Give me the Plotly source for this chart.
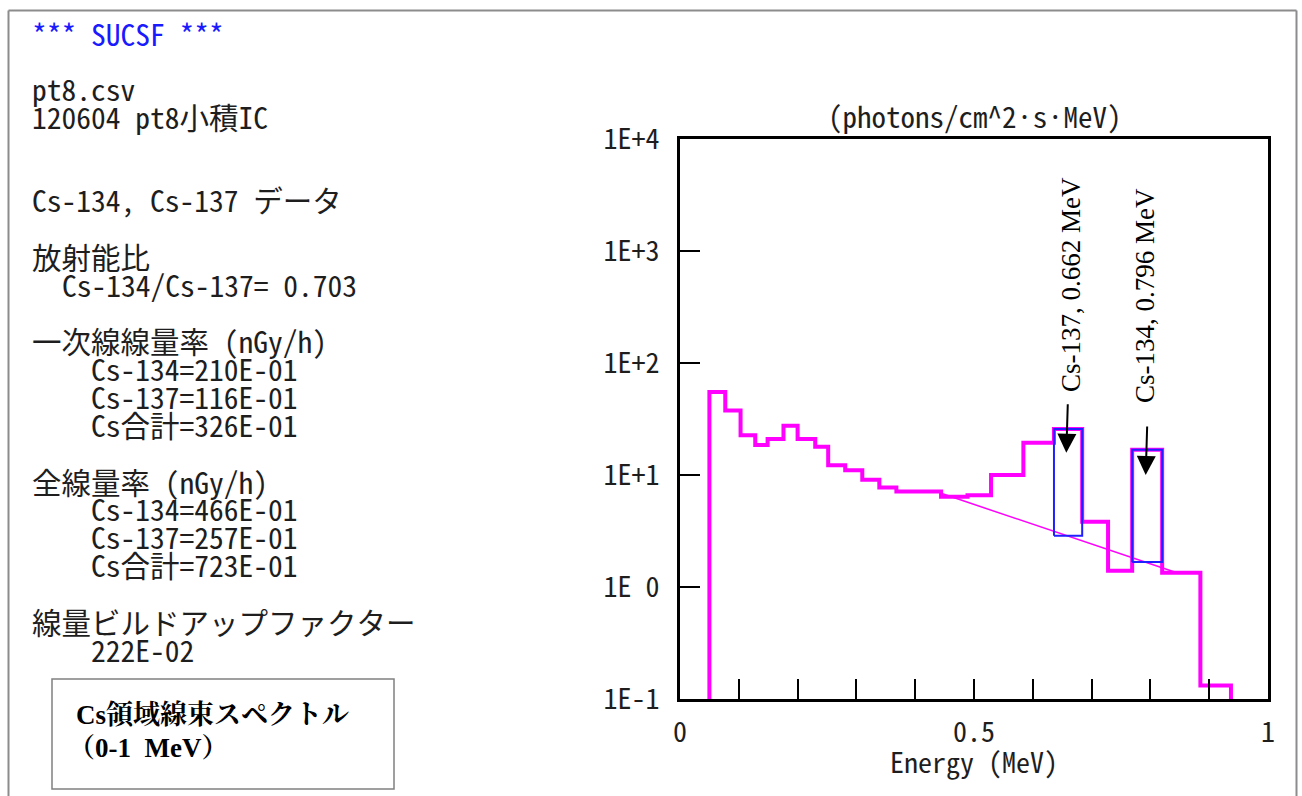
import math
import plotly.graph_objects as go

# ---------------- data ----------------
# histogram bin edges (MeV) and flux per bin (photons/cm^2·s·MeV)
edges = [0.050, 0.077, 0.103, 0.128, 0.149, 0.176, 0.200, 0.230, 0.252, 0.281,
         0.310, 0.339, 0.368, 0.444, 0.489, 0.529, 0.584, 0.636, 0.684, 0.728,
         0.769, 0.820, 0.885, 0.937]
flux = [55.2, 37.6, 22.7, 18.5, 21.0, 27.5, 21.0, 17.9, 12.2, 11.0,
        9.06, 7.73, 7.12, 6.39, 6.61, 10.0, 19.4, 25.8, 3.82, 1.40,
        16.8, 1.34, 0.132]

# continuum baseline under the peaks
baseline_e = [0.444, 0.845]
baseline_v = [6.86, 1.34]

# photo-peak boxes
peak_names = ["Cs-137, 0.662 MeV", "Cs-134, 0.796 MeV"]
peak_lo = [0.636, 0.769]
peak_hi = [0.684, 0.820]
peak_top = [25.8, 16.8]
peak_bottom = [2.87, 1.67]
arrow_x = [0.657, 0.792]
arrow_tip = [15.8, 10.0]

ytick_vals = [0.1, 1, 10, 100, 1000, 10000]
ytick_text = ["1E-1", "1E 0", "1E+1", "1E+2", "1E+3", "1E+4"]
xtick_vals = [0, 0.1, 0.2, 0.3, 0.4, 0.5, 0.6, 0.7, 0.8, 0.9, 1.0]
xtick_text = ["0", "", "", "", "", "0.5", "", "", "", "", "1"]

info_lines = [
    ("*** SUCSF ***", 0, 33),
    ("pt8.csv", 0, 88),
    ("120604 pt8小積IC", 0, 116),
    ("Cs-134, Cs-137 データ", 0, 199),
    ("放射能比", 0, 256),
    ("Cs-134/Cs-137= 0.703", 2, 284),
    ("一次線線量率 (nGy/h)", 0, 340),
    ("Cs-134=210E-01", 4, 368),
    ("Cs-137=116E-01", 4, 396),
    ("Cs合計=326E-01", 4, 424),
    ("全線量率 (nGy/h)", 0, 481),
    ("Cs-134=466E-01", 4, 508),
    ("Cs-137=257E-01", 4, 536),
    ("Cs合計=723E-01", 4, 564),
    ("線量ビルドアップファクター", 0, 621),
    ("222E-02", 4, 649),
]

# ---------------- layout geometry ----------------
W, H = 1302, 796
L, R, T, B = 680, 34, 139, 97
PW, PH = W - L - R, H - T - B


def px(x):
    return (x - L) / PW


def py(y):
    return (H - B - y) / PH


MONO = "Noto Sans Mono CJK JP, Noto Sans CJK JP, DejaVu Sans Mono, monospace"
SERIF = "Liberation Serif, Noto Serif CJK JP, Noto Sans CJK JP, serif"
MAG = "#ff00ff"
TXT = "#1e1e1e"

fig = go.Figure()

# step histogram
ylow = 0.01
sx = [edges[0]] + edges + [edges[-1]]
sy = [ylow] + flux + [flux[-1], ylow]
fig.add_trace(go.Scatter(x=sx, y=sy, mode="lines", line=dict(color=MAG, width=4, shape="hv"),
                         hoverinfo="skip", showlegend=False))

# baseline
fig.add_trace(go.Scatter(x=baseline_e, y=baseline_v, mode="lines",
                         line=dict(color=MAG, width=1.5), hoverinfo="skip", showlegend=False))

# peak boxes
for lo, hi, top, bot in zip(peak_lo, peak_hi, peak_top, peak_bottom):
    fig.add_trace(go.Scatter(x=[lo, hi, hi, lo, lo], y=[bot, bot, top, top, bot], mode="lines",
                             line=dict(color="#2020ff", width=2), hoverinfo="skip", showlegend=False))

annotations = []
# arrows
for ax_, tip in zip(arrow_x, arrow_tip):
    annotations.append(dict(x=ax_, y=math.log10(tip), xref="x", yref="y", text="", showarrow=True,
                            ax=1.5, ay=-50, arrowhead=2, arrowsize=1.9, arrowwidth=2,
                            arrowcolor="black"))

# rotated peak labels
label_pix = [(1071, 285), (1145, 296)]
for name, (lx, ly) in zip(peak_names, label_pix):
    annotations.append(dict(x=px(lx), y=py(ly), xref="paper", yref="paper", text=name,
                            textangle=-90, showarrow=False, xanchor="center", yanchor="middle",
                            font=dict(family=SERIF, size=27, color="black")))

# left info text
for txt, indent, yy in info_lines:
    color = "#1a1aff" if "SUCSF" in txt else TXT
    annotations.append(dict(x=px(30 + indent * 14.8), y=py(yy), xref="paper", yref="paper",
                            text=txt, showarrow=False, xanchor="left", yanchor="middle",
                            font=dict(family=MONO, size=29.5, color=color)))

# plot title and x axis title
annotations.append(dict(x=px(975), y=py(115), xref="paper", yref="paper",
                        text="(photons/cm^2·s·MeV)", showarrow=False, xanchor="center",
                        yanchor="middle", font=dict(family=MONO, size=29, color=TXT)))
annotations.append(dict(x=px(974), y=py(761), xref="paper", yref="paper",
                        text="Energy (MeV)", showarrow=False, xanchor="center",
                        yanchor="middle", font=dict(family=MONO, size=28, color=TXT)))

# boxed caption
annotations.append(dict(x=px(74), y=py(715), xref="paper", yref="paper",
                        text="<b>Cs領域線束スペクトル</b>", showarrow=False, xanchor="left",
                        yanchor="middle", font=dict(family=SERIF, size=27, color="black")))
annotations.append(dict(x=px(66), y=py(748), xref="paper", yref="paper",
                        text="<b>（0-1  MeV）</b>", showarrow=False, xanchor="left",
                        yanchor="middle", font=dict(family=SERIF, size=27, color="black")))

shapes = [
    # outer frame (left, top, right)
    dict(type="line", xref="paper", yref="paper", x0=px(8.5), x1=px(8.5), y0=py(10.5), y1=py(800),
         line=dict(color="#8c8c8c", width=2)),
    dict(type="line", xref="paper", yref="paper", x0=px(8.5), x1=px(1296.5), y0=py(10.5), y1=py(10.5),
         line=dict(color="#8c8c8c", width=2)),
    dict(type="line", xref="paper", yref="paper", x0=px(1296.5), x1=px(1296.5), y0=py(10.5), y1=py(800),
         line=dict(color="#8c8c8c", width=2)),
    # caption box
    dict(type="rect", xref="paper", yref="paper", x0=px(52), x1=px(394), y0=py(789), y1=py(679),
         line=dict(color="#808080", width=1.5)),
]

fig.update_layout(
    width=W, height=H,
    margin=dict(l=L, r=R, t=T, b=B, pad=0),
    paper_bgcolor="white", plot_bgcolor="white",
    showlegend=False,
    annotations=annotations,
    shapes=shapes,
    xaxis=dict(range=[0, 1], tickvals=xtick_vals, ticktext=xtick_text, ticks="inside", ticklen=20,
               tickwidth=2, tickcolor="black", showgrid=False, zeroline=False, showline=True,
               linecolor="black", linewidth=3, mirror=True, ticklabelstandoff=6,
               tickfont=dict(family=MONO, size=28, color=TXT)),
    yaxis=dict(type="log", range=[-1, 4], tickvals=ytick_vals, ticktext=ytick_text, ticks="inside",
               ticklen=20, tickwidth=2, tickcolor="black", showgrid=False, zeroline=False,
               showline=True, linecolor="black", linewidth=3, mirror=True, ticklabelstandoff=12,
               tickfont=dict(family=MONO, size=28, color=TXT)),
)

fig.write_html("out.html")
